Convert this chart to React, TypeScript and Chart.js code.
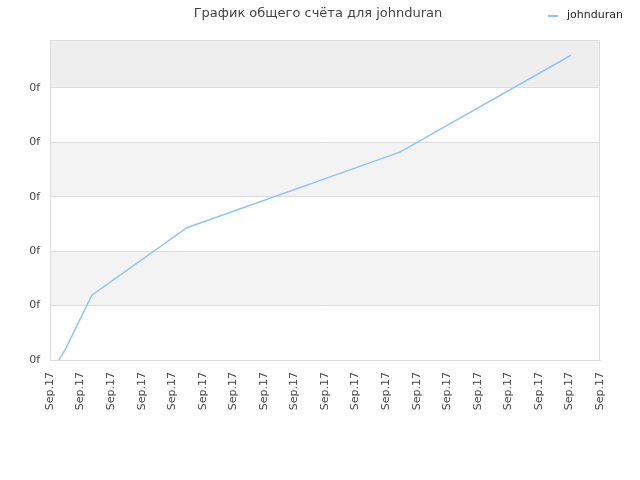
import React, { useEffect, useRef } from "react";
import { Chart, registerables } from "chart.js";

Chart.register(...registerables);

const titleText = "График общего счёта для johnduran";
const seriesName = "johnduran";
const xValues = [0.29, 0.49, 1.37, 4.48, 11.45, 17.05];
const yValues = [0, 0.18, 1.19, 2.43, 3.82, 5.6];
const xTickLabel = "Sep.17";
const yTickLabel = "0f";
const xMin = 0;
const xMax = 18;
const yMin = 0;
const yMax = 5.88;

const FONT = "'DejaVu Sans', Verdana, sans-serif";

const bandsPlugin = {
  id: "bands",
  beforeDraw(chart: any) {
    const { ctx, chartArea, scales } = chart;
    const y = scales.y;
    ctx.save();
    ctx.fillStyle = "#ffffff";
    ctx.fillRect(chartArea.left, chartArea.top, chartArea.right - chartArea.left, chartArea.bottom - chartArea.top);
    const steps: number[] = [];
    for (let v = yMin; v <= yMax; v += 1) steps.push(v);
    steps.push(yMax);
    for (let i = 0; i < steps.length - 1; i++) {
      if (i % 2 === 1) {
        const top = y.getPixelForValue(steps[i + 1]);
        const bot = y.getPixelForValue(steps[i]);
        ctx.fillStyle = i === steps.length - 2 ? "#eeeeee" : "#f3f3f3";
        ctx.fillRect(chartArea.left, top, chartArea.right - chartArea.left, bot - top);
      }
    }
    ctx.restore();
  },
  afterDraw(chart: any) {
    const { ctx, chartArea } = chart;
    ctx.save();
    ctx.strokeStyle = "#dddddd";
    ctx.lineWidth = 1;
    ctx.strokeRect(chartArea.left + 0.5, chartArea.top + 0.5, chartArea.right - chartArea.left - 1, chartArea.bottom - chartArea.top);
    // title
    ctx.fillStyle = "#444444";
    ctx.font = `13px ${FONT}`;
    ctx.textAlign = "center";
    ctx.textBaseline = "middle";
    ctx.fillText(titleText, 318, 14);
    // legend
    ctx.strokeStyle = "#90c4f2";
    ctx.lineWidth = 2;
    ctx.beginPath();
    ctx.moveTo(548, 16);
    ctx.lineTo(558, 16);
    ctx.stroke();
    ctx.fillStyle = "#222222";
    ctx.font = `11px ${FONT}`;
    ctx.textAlign = "left";
    ctx.fillText(seriesName, 567, 15);
    ctx.restore();
  },
};

export default function App() {
  const ref = useRef<HTMLCanvasElement | null>(null);
  useEffect(() => {
    if (!ref.current) return;
    const chart = new Chart(ref.current, {
      type: "line",
      data: {
        datasets: [
          {
            label: seriesName,
            data: xValues.map((x, i) => ({ x, y: yValues[i] })),
            borderColor: "#90c4f2",
            backgroundColor: "#90c4f2",
            borderWidth: 1.5,
            pointRadius: 0,
            tension: 0,
          },
        ],
      },
      options: {
        animation: false,
        responsive: false,
        devicePixelRatio: 1,
        layout: { padding: { top: 40, right: 40, left: 0, bottom: 0 } },
        plugins: { legend: { display: false }, title: { display: false }, tooltip: { enabled: false } },
        scales: {
          x: {
            type: "linear",
            min: xMin,
            max: xMax,
            afterFit(scale: any) {
              scale.height = 120;
            },
            afterBuildTicks(scale: any) {
              const t = [];
              for (let v = xMin; v <= xMax; v++) t.push({ value: v });
              scale.ticks = t;
            },
            ticks: {
              callback: () => xTickLabel,
              maxRotation: 90,
              minRotation: 90,
              autoSkip: false,
              color: "#444444",
              font: { family: FONT, size: 11 },
              padding: 4,
            },
            grid: { display: false },
            border: { color: "#dddddd" },
          },
          y: {
            type: "linear",
            min: yMin,
            max: yMax,
            afterFit(scale: any) {
              scale.width = 50;
            },
            afterBuildTicks(scale: any) {
              const t = [];
              for (let v = yMin; v <= yMax; v++) t.push({ value: v });
              scale.ticks = t;
            },
            ticks: {
              callback: () => yTickLabel,
              color: "#444444",
              font: { family: FONT, size: 11 },
              padding: 10,
            },
            grid: { color: "#dddddd", drawTicks: false },
            border: { color: "#dddddd" },
          },
        },
      },
      plugins: [bandsPlugin],
    });
    return () => chart.destroy();
  }, []);
  return (
    <div style={{ position: "fixed", left: 0, top: 0, width: 640, height: 480, background: "#fff" }}>
      <canvas ref={ref} width={640} height={480} style={{ width: 640, height: 480 }} />
    </div>
  );
}
